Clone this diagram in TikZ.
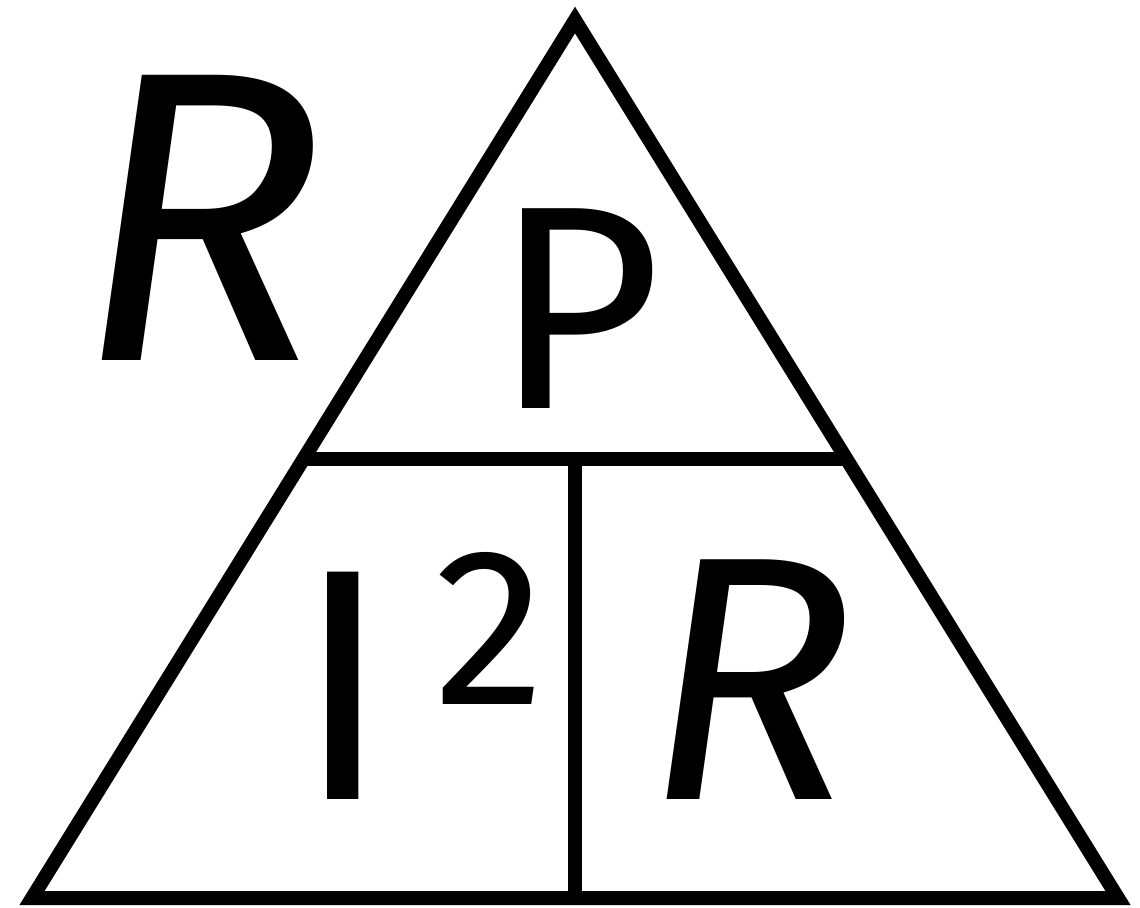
\documentclass[tikz,border=0pt]{standalone}
\usepackage{fontspec}
\setmainfont{Fira Sans}
\begin{document}
\begin{tikzpicture}[x=0.5pt,y=-0.5pt,
  edge/.style={line width=7pt,line join=miter,black},
  letter/.style={inner sep=0pt,anchor=center}]
\useasboundingbox (0,0) rectangle (1140,907);
\coordinate (apex) at (575,20);
\coordinate (bl) at (32,898);
\coordinate (br) at (1118,898);
\coordinate (ml) at (303.5,459);
\coordinate (mr) at (846.5,459);
\coordinate (mc) at (575,459);
\coordinate (bc) at (575,898);
\draw[edge] (apex) -- (br) -- (bl) -- cycle;
\draw[edge] (ml) -- (mr);
\draw[edge] (mc) -- (bc);
\node[letter] (rtop) at (200,218) {\fontsize{207}{207}\selectfont\itshape R};
\node[letter] (p) at (578,309) {\fontsize{145}{145}\selectfont P};
\node[letter] (i) at (343,686) {\fontsize{165}{165}\selectfont I};
\node[letter] (two) at (490,628) {\fontsize{112}{112}\selectfont 2};
\node[letter] (rbot) at (750,680) {\fontsize{174}{174}\selectfont\itshape R};
\end{tikzpicture}
\end{document}
